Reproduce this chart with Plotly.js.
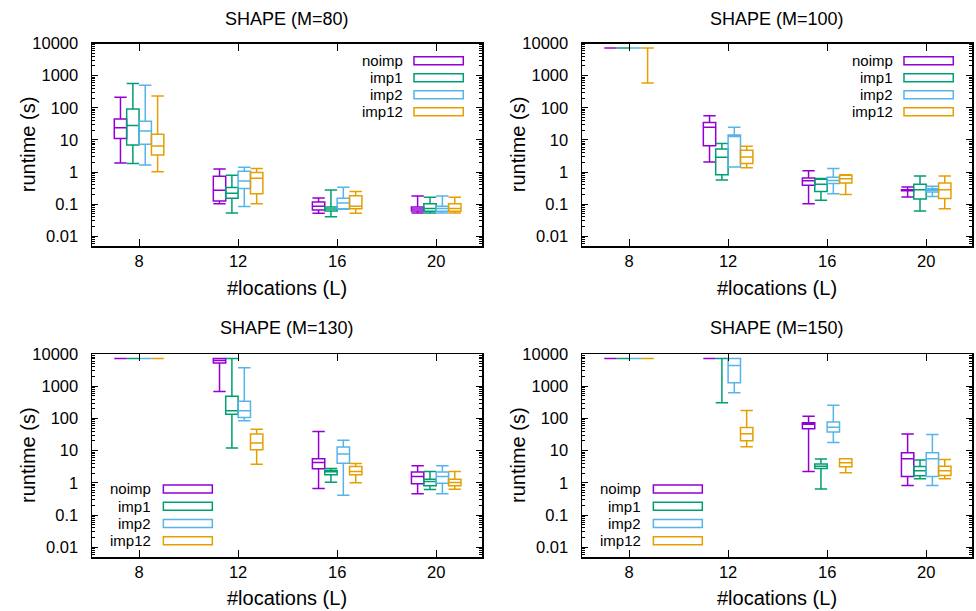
<!DOCTYPE html>
<html>
<head>
<meta charset="utf-8">
<script src="https://cdn.plot.ly/plotly-3.0.1.min.js"></script>
<style>html,body{margin:0;padding:0;background:#fff;}#chart{width:976px;height:611px;}</style>
</head>
<body>
<div id="chart"></div>
<script>
// ---- data ----
const L = [8, 12, 16, 20];
const seriesNames = ['noimp', 'imp1', 'imp2', 'imp12'];
const panelTitles = ['SHAPE (M=80)', 'SHAPE (M=100)', 'SHAPE (M=130)', 'SHAPE (M=150)'];
const yTickVals = [0.01, 0.1, 1, 10, 100, 1000, 10000];
const yTickText = ['0.01', '0.1', '1', '10', '100', '1000', '10000'];
const xTitle = '#locations (L)';
const yTitle = 'runtime (s)';
// each entry per L: [min, q1, median, q3, max]
const m80_noimp = [[1.9, 11, 24, 45, 213], [0.104, 0.126, 0.27, 0.74, 1.25], [0.052, 0.066, 0.086, 0.117, 0.156], [0.053, 0.061, 0.071, 0.082, 0.18]];
const m80_imp1  = [[1.83, 7, 28, 92, 568], [0.053, 0.152, 0.22, 0.33, 0.79], [0.041, 0.061, 0.071, 0.082, 0.276], [0.053, 0.06, 0.074, 0.104, 0.163]];
const m80_imp2  = [[1.66, 7.3, 19, 38, 504], [0.084, 0.31, 0.53, 1.05, 1.4], [0.07, 0.072, 0.109, 0.152, 0.334], [0.053, 0.06, 0.074, 0.086, 0.18]];
const m80_imp12 = [[1.03, 3.4, 6.5, 15, 234], [0.104, 0.21, 0.64, 0.96, 1.3], [0.052, 0.072, 0.086, 0.184, 0.25], [0.053, 0.06, 0.073, 0.104, 0.163]];

const m100_noimp = [[7200, 7200, 7200, 7200, 7200], [2.06, 6.6, 24.8, 34.6, 56], [0.104, 0.39, 0.54, 0.65, 1.1], [0.167, 0.26, 0.27, 0.28, 0.34]];
const m100_imp1  = [[7200, 7200, 7200, 7200, 7200], [0.57, 0.83, 2.9, 5.2, 7.7], [0.132, 0.25, 0.42, 0.6, 0.63], [0.061, 0.145, 0.28, 0.42, 0.75]];
const m100_imp2  = [[7200, 7200, 7200, 7200, 7200], [1.44, 1.44, 12.7, 14.3, 24.8], [0.21, 0.44, 0.55, 0.69, 1.3], [0.175, 0.24, 0.27, 0.3, 0.36]];
const m100_imp12 = [[595, 7200, 7200, 7200, 7200], [1.37, 1.83, 2.95, 4.75, 6.3], [0.2, 0.46, 0.62, 0.79, 0.83], [0.072, 0.15, 0.28, 0.46, 0.75]];

const m130_noimp = [[7200, 7200, 7200, 7200, 7200], [687, 5300, 6300, 7200, 7200], [0.67, 2.74, 4.3, 5.6, 39], [0.46, 0.94, 1.58, 2.16, 3.4]];
const m130_imp1  = [[7200, 7200, 7200, 7200, 7200], [12.1, 135, 172, 492, 7200], [1.05, 1.78, 2.21, 2.43, 2.8], [0.62, 0.81, 1.1, 1.3, 2.26]];
const m130_imp2  = [[7200, 7200, 7200, 7200, 7200], [84, 106, 172, 344, 3750], [0.41, 4.1, 7.9, 13, 21], [0.46, 0.98, 1.58, 2.16, 3.4]];
const m130_imp12 = [[7200, 7200, 7200, 7200, 7200], [3.8, 10.7, 17.3, 33, 46], [1.0, 1.78, 2.26, 3.24, 4.0], [0.63, 0.81, 1.03, 1.3, 2.26]];

const m150_noimp = [[7200, 7200, 7200, 7200, 7200], [7200, 7200, 7200, 7200, 7200], [2.26, 48, 66, 74, 117], [0.83, 1.58, 5.6, 8.65, 33]];
const m150_imp1  = [[7200, 7200, 7200, 7200, 7200], [305, 7200, 7200, 7200, 7200], [0.65, 2.8, 3.3, 3.84, 5.5], [1.34, 1.66, 2.38, 3.24, 5.1]];
const m150_imp2  = [[7200, 7200, 7200, 7200, 7200], [624, 1280, 4430, 7200, 7200], [18, 38, 53, 78, 258], [0.83, 1.58, 5.6, 8.65, 32]];
const m150_imp12 = [[7200, 7200, 7200, 7200, 7200], [13.3, 20.4, 33.7, 52, 176], [2.06, 3.16, 4.2, 5.6, 5.6], [1.34, 1.7, 2.38, 3.3, 5.3]];

const panels = [
  [m80_noimp, m80_imp1, m80_imp2, m80_imp12],
  [m100_noimp, m100_imp1, m100_imp2, m100_imp12],
  [m130_noimp, m130_imp1, m130_imp2, m130_imp12],
  [m150_noimp, m150_imp1, m150_imp2, m150_imp12]
];

// ---- style ----
const colors = ['#9400d3', '#009e73', '#56b4e9', '#e69f00'];
const offsets = [-0.75, -0.25, 0.25, 0.75];
const boxW = 0.5;
const FONT = 'Liberation Sans, Arial, sans-serif';
const W = 976, H = 611;
const xDom = [[92 / W, 482 / W], [582 / W, 972 / W]];
const yDom = [[1 - 246 / H, 1 - 43.5 / H], [1 - 557 / H, 1 - 354 / H]];
// legend placement per panel (domain fractions)
const legendPos = [
  {tx: 0.80, r0: 0.8256, r1: 0.952, ys: [0.9152, 0.8313, 0.7473, 0.6627], h: 0.0395},
  {tx: 0.80, r0: 0.8256, r1: 0.952, ys: [0.9152, 0.8313, 0.7473, 0.6627], h: 0.0395},
  {tx: 0.1546, r0: 0.183, r1: 0.3085, ys: [0.335, 0.2503, 0.165, 0.0803], h: 0.0395},
  {tx: 0.1546, r0: 0.183, r1: 0.3085, ys: [0.335, 0.2503, 0.165, 0.0803], h: 0.0395}
];

const traces = [];
const layout = {
  width: W, height: H,
  margin: {l: 0, r: 0, t: 0, b: 0},
  paper_bgcolor: '#fff', plot_bgcolor: '#fff',
  showlegend: false,
  boxmode: 'overlay',
  font: {family: FONT, color: '#000', size: 16.5},
  annotations: [],
  shapes: []
};

panels.forEach((panel, p) => {
  const col = p % 2, row = Math.floor(p / 2);
  const n = p + 1;
  const xa = 'x' + (n === 1 ? '' : n), ya = 'y' + (n === 1 ? '' : n);
  const xKey = 'xaxis' + (n === 1 ? '' : n), yKey = 'yaxis' + (n === 1 ? '' : n);
  panel.forEach((stats, s) => {
    traces.push({
      type: 'box',
      name: seriesNames[s],
      xaxis: xa, yaxis: ya,
      x: L.map(v => v + offsets[s]),
      lowerfence: stats.map(d => d[0]),
      q1: stats.map(d => d[1]),
      median: stats.map(d => d[2]),
      q3: stats.map(d => d[3]),
      upperfence: stats.map(d => d[4]),
      width: boxW,
      whiskerwidth: 1,
      fillcolor: 'rgba(0,0,0,0)',
      line: {color: colors[s], width: 1.5},
      hoverinfo: 'skip'
    });
  });
  layout[xKey] = {
    domain: xDom[col], anchor: ya,
    range: [6.1, 21.85], type: 'linear',
    tickvals: L, ticktext: L.map(String),
    ticks: 'inside', ticklen: 7, tickwidth: 1, tickcolor: '#000',
    showline: true, linecolor: '#000', linewidth: 1.5, mirror: 'allticks',
    showgrid: false, zeroline: false,
    tickfont: {family: FONT, size: 16.5, color: '#000'}
  };
  layout[yKey] = {
    domain: yDom[row], anchor: xa,
    type: 'log', range: [Math.log10(0.005), 4],
    tickmode: 'array', tickvals: yTickVals, ticktext: yTickText,
    ticks: 'inside', ticklen: 6, tickwidth: 1, tickcolor: '#000',
    minor: {ticks: 'inside', ticklen: 3, tickwidth: 1, tickcolor: '#000', dtick: 'D1', showgrid: false},
    showline: true, linecolor: '#000', linewidth: 1.5, mirror: 'allticks',
    showgrid: false, zeroline: false,
    ticklabelstandoff: 9,
    tickfont: {family: FONT, size: 16.5, color: '#000'}
  };
  // panel title
  const cx = (xDom[col][0] + xDom[col][1]) / 2;
  layout.annotations.push({
    text: panelTitles[p], xref: 'paper', yref: 'paper', x: cx,
    y: row === 0 ? 1 - 18.5 / H : 1 - 328 / H, xanchor: 'center', yanchor: 'middle',
    showarrow: false, font: {family: FONT, size: 18, color: '#000'}
  });
  // axis titles
  layout.annotations.push({
    text: xTitle, xref: 'paper', yref: 'paper', x: cx,
    y: row === 0 ? 1 - 288 / H : 1 - 598 / H, xanchor: 'center', yanchor: 'middle',
    showarrow: false, font: {family: FONT, size: 20, color: '#000'}
  });
  layout.annotations.push({
    text: yTitle, xref: 'paper', yref: 'paper',
    x: (col === 0 ? 27.5 : 517.5) / W,
    y: (yDom[row][0] + yDom[row][1]) / 2, xanchor: 'center', yanchor: 'middle',
    textangle: -90, showarrow: false, font: {family: FONT, size: 20, color: '#000'}
  });
  // legend (key)
  const lp = legendPos[p];
  seriesNames.forEach((nm, s) => {
    layout.annotations.push({
      text: nm, xref: xa + ' domain', yref: ya + ' domain',
      x: lp.tx, y: lp.ys[s], xanchor: 'right', yanchor: 'middle',
      borderpad: 0, valign: 'middle',
      showarrow: false, font: {family: FONT, size: 15, color: '#000'}
    });
    layout.shapes.push({
      type: 'rect', xref: xa + ' domain', yref: ya + ' domain',
      x0: lp.r0, x1: lp.r1, y0: lp.ys[s] - lp.h / 2, y1: lp.ys[s] + lp.h / 2,
      line: {color: colors[s], width: 1.5}, fillcolor: 'rgba(0,0,0,0)'
    });
  });
});

Plotly.newPlot('chart', traces, layout, {displayModeBar: false, staticPlot: true});
</script>
</body>
</html>
